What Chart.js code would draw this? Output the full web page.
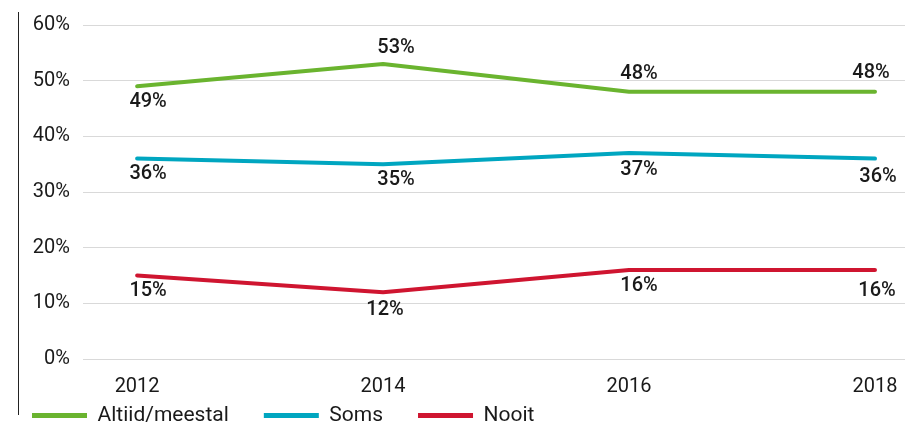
<!DOCTYPE html>
<html>
<head>
<meta charset="utf-8">
<script src="https://cdn.jsdelivr.net/npm/chart.js@4"></script>
<style>
  html, body { margin: 0; padding: 0; background: #fff; }
  #wrap { position: relative; width: 912px; height: 423px; }
  #axisLine { position: absolute; left: 18px; top: 12px; width: 0; height: 403px; border-left: 1px solid #222; }
</style>
</head>
<body>
<div id="wrap">
  <canvas id="lineChart" width="912" height="423"></canvas>
  <div id="axisLine"></div>
</div>
<script>
const years = [2012, 2014, 2016, 2018];
const altijd = [49, 53, 48, 48];
const soms = [36, 35, 37, 36];
const nooit = [15, 12, 16, 16];
const seriesNames = ["Altiid/meestal", "Soms", "Nooit"];
const yTicks = [0, 10, 20, 30, 40, 50, 60];

const FONT = "Roboto, 'DejaVu Sans', sans-serif";

// label nudges [dx, dy] per point, per series
const labelNudge = [
  [[11, 16], [13, -16], [10, -18], [-4, -19]],
  [[11, 15], [13, 16], [10, 17], [3, 18]],
  [[11, 15], [2, 18], [10, 16], [2, 21]]
];

function toPoints(values) {
  return values.map((v, i) => ({ x: years[i], y: v }));
}

const valueLabels = {
  id: "valueLabels",
  afterLayout(chart) {
    // pull the legend row up under the year labels
    const lg = chart.legend;
    lg.top = 370;
    lg.bottom = chart.height;
    lg.height = lg.bottom - lg.top;
    lg.left = -3;
    lg.width = lg.right - lg.left;
  },
  afterDatasetsDraw(chart) {
    const ctx = chart.ctx;
    ctx.save();
    ctx.font = "500 20px " + FONT;
    ctx.fillStyle = "#1a1a1a";
    ctx.textAlign = "center";
    ctx.textBaseline = "middle";
    chart.data.datasets.forEach((ds, di) => {
      const meta = chart.getDatasetMeta(di);
      meta.data.forEach((pt, i) => {
        const n = labelNudge[di][i];
        ctx.fillText(ds.data[i].y + "%", pt.x + n[0], pt.y + n[1]);
      });
    });
    ctx.restore();
  }
};

function makeSet(label, values, color) {
  return {
    label: label,
    data: toPoints(values),
    borderColor: color,
    backgroundColor: color,
    borderWidth: 4,
    pointRadius: 0,
    borderCapStyle: "round",
    borderJoinStyle: "round",
    tension: 0
  };
}

const chart = new Chart(document.getElementById("lineChart"), {
  type: "line",
  data: {
    datasets: [
      makeSet(seriesNames[0], altijd, "#6ab42f"),
      makeSet(seriesNames[1], soms, "#00a6c0"),
      makeSet(seriesNames[2], nooit, "#cf1530")
    ]
  },
  options: {
    responsive: false,
    animation: false,
    layout: { padding: { left: 0, right: 7, top: 13, bottom: 0 } },
    plugins: {
      tooltip: { enabled: false },
      legend: {
        position: "bottom",
        align: "start",
        labels: {
          boxWidth: 55,
          boxHeight: 5,
          padding: 35,
          color: "#1a1a1a",
          font: { family: FONT, size: 21 },
          generateLabels(chart) {
            return chart.data.datasets.map((ds, i) => ({
              text: ds.label,
              fillStyle: ds.borderColor,
              strokeStyle: ds.borderColor,
              lineWidth: 0,
              fontColor: "#1a1a1a",
              datasetIndex: i
            }));
          }
        }
      }
    },
    scales: {
      x: {
        type: "linear",
        min: 2011.56,
        max: 2018.244,
        afterBuildTicks(scale) {
          scale.ticks = years.map(y => ({ value: y }));
        },
        afterFit(scale) { scale.height = 36; },
        grid: { display: false },
        border: { display: false },
        ticks: {
          color: "#1a1a1a",
          padding: 8,
          font: { family: FONT, size: 20 },
          callback: v => String(v)
        }
      },
      y: {
        min: 0,
        max: 60,
        afterBuildTicks(scale) {
          scale.ticks = yTicks.map(v => ({ value: v }));
        },
        afterFit(scale) { scale.width = 83; },
        grid: { color: "#d9d9d9", lineWidth: 1, drawTicks: false },
        border: { display: false },
        ticks: {
          color: "#1a1a1a",
          padding: 13,
          font: { family: FONT, size: 20 },
          callback: v => v + "%"
        }
      }
    }
  },
  plugins: [valueLabels]
});

// keep the legend short so the plot area reaches down to the x labels
const baseFit = chart.legend.fit;
chart.legend.fit = function () {
  baseFit.call(this);
  this.height = 28;
};
chart.update();
</script>
</body>
</html>
